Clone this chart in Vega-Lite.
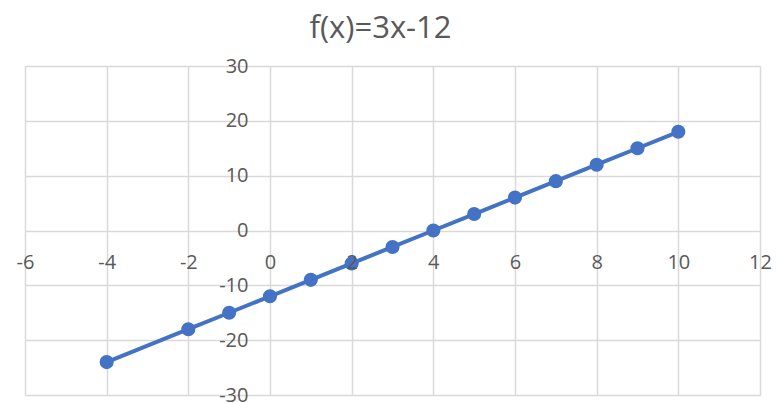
{
  "$schema": "https://vega.github.io/schema/vega-lite/v6.json",
  "autosize": "none",
  "width": 735,
  "height": 329,
  "padding": {"left": 25, "top": 66, "right": 16, "bottom": 8},
  "background": "white",
  "title": {
    "text": "f(x)=3x-12",
    "font": "Open Sans",
    "fontSize": 31,
    "fontWeight": "normal",
    "color": "#595959",
    "anchor": "middle",
    "dx": -12,
    "dy": -7
  },
  "config": {
    "view": {"stroke": null},
    "axis": {
      "labelFont": "Open Sans",
      "labelFontSize": 20,
      "labelColor": "#595959",
      "gridColor": "#D9D9D9",
      "gridWidth": 1.5,
      "ticks": false,
      "domain": false,
      "title": null
    }
  },
  "data": {
    "values": [
      {"x": -4, "y": -24},
      {"x": -2, "y": -18},
      {"x": -1, "y": -15},
      {"x": 0, "y": -12},
      {"x": 1, "y": -9},
      {"x": 2, "y": -6},
      {"x": 3, "y": -3},
      {"x": 4, "y": 0},
      {"x": 5, "y": 3},
      {"x": 6, "y": 6},
      {"x": 7, "y": 9},
      {"x": 8, "y": 12},
      {"x": 9, "y": 15},
      {"x": 10, "y": 18}
    ]
  },
  "layer": [
    {
      "mark": {"type": "line", "color": "#4472C4", "strokeWidth": 4},
      "encoding": {
        "x": {
          "field": "x", "type": "quantitative",
          "scale": {"domain": [-6, 12], "nice": false, "zero": false},
          "axis": {"grid": true, "labels": false, "values": [-6, -4, -2, 0, 2, 4, 6, 8, 10, 12]}
        },
        "y": {
          "field": "y", "type": "quantitative",
          "scale": {"domain": [-30, 30], "nice": false},
          "axis": {"grid": true, "labels": false, "values": [-30, -20, -10, 0, 10, 20, 30]}
        }
      }
    },
    {
      "mark": {"type": "circle", "color": "#4472C4", "opacity": 1, "size": 200},
      "encoding": {
        "x": {
          "field": "x", "type": "quantitative",
          "axis": {
            "orient": "bottom", "offset": -164.5, "grid": false, "zindex": 1,
            "labelPadding": 22, "labelFlush": false, "labelOverlap": false,
            "labelExpr": "datum.value + ''",
            "values": [-6, -4, -2, 0, 2, 4, 6, 8, 10, 12]
          }
        },
        "y": {
          "field": "y", "type": "quantitative",
          "axis": {
            "orient": "left", "offset": -245, "grid": false, "zindex": 1,
            "labelPadding": 22, "labelFlush": false, "labelOverlap": false,
            "labelExpr": "datum.value + ''",
            "values": [-30, -20, -10, 0, 10, 20, 30]
          }
        }
      }
    }
  ],
  "resolve": {"axis": {"x": "independent", "y": "independent"}}
}
